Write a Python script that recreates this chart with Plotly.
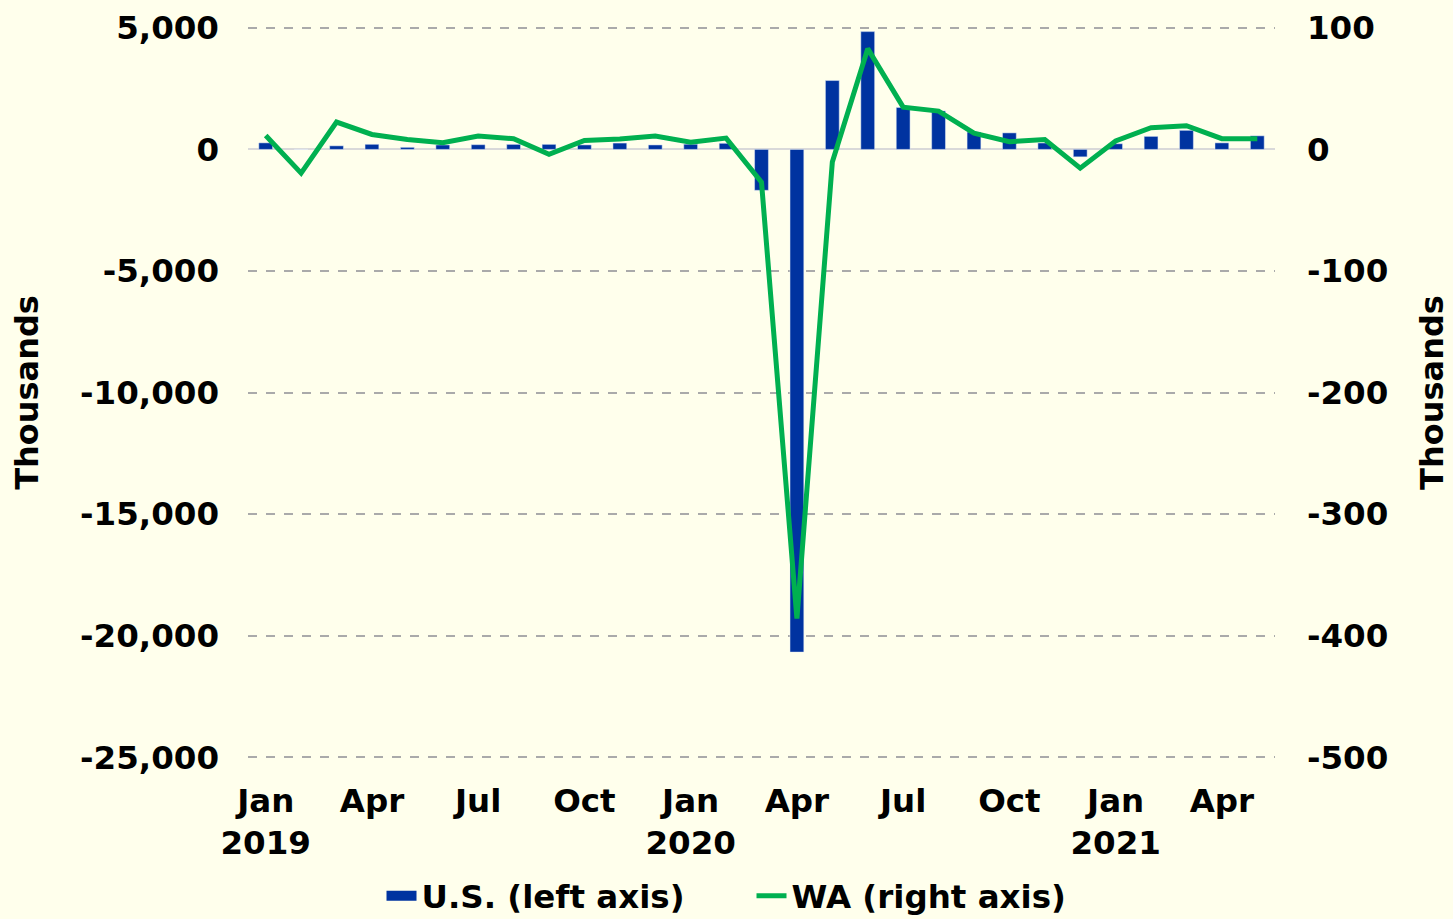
import plotly.graph_objects as go

months = ["Jan 2019","Feb 2019","Mar 2019","Apr 2019","May 2019","Jun 2019","Jul 2019","Aug 2019",
          "Sep 2019","Oct 2019","Nov 2019","Dec 2019","Jan 2020","Feb 2020","Mar 2020","Apr 2020",
          "May 2020","Jun 2020","Jul 2020","Aug 2020","Sep 2020","Oct 2020","Nov 2020","Dec 2020",
          "Jan 2021","Feb 2021","Mar 2021","Apr 2021","May 2021"]
us_values = [269, 1, 147, 210, 85, 182, 194, 207, 208, 185, 261, 184, 214, 251, -1683, -20679,
             2833, 4846, 1726, 1583, 716, 680, 264, -306, 233, 536, 785, 269, 559]
wa_values = [11.5, -19.5, 22.5, 12.3, 8.2, 5.5, 11.0, 8.8, -4.1, 7.4, 8.5, 11.0, 6.0, 9.3, -27.0,
             -386.0, -10.4, 82.9, 34.8, 31.5, 13.4, 6.3, 8.2, -15.4, 6.9, 17.8, 19.5, 8.8, 8.8]
tick_idx = [0, 3, 6, 9, 12, 15, 18, 21, 24, 27]
tick_text = ["Jan<br>2019", "Apr", "Jul", "Oct", "Jan<br>2020", "Apr", "Jul", "Oct", "Jan<br>2021", "Apr"]
left_ticks = [5000, 0, -5000, -10000, -15000, -20000, -25000]
left_text = ["5,000", "0", "-5,000", "-10,000", "-15,000", "-20,000", "-25,000"]
right_ticks = [100, 0, -100, -200, -300, -400, -500]
right_text = ["100", "0", "-100", "-200", "-300", "-400", "-500"]

BG = "#FFFFEC"
BLUE = "#0033A0"
GREEN = "#00B050"
FONT = dict(family="DejaVu Sans", size=32.5, color="black", weight="bold")
TITLE_FONT = dict(family="DejaVu Sans", size=32, color="black", weight="bold")

x = list(range(len(months)))

fig = go.Figure()
fig.add_trace(go.Bar(x=x, y=us_values, name="U.S. (left axis)", marker_color=BLUE,
                     width=0.39, yaxis="y", showlegend=False, legendgroup="us"))
# legend entry drawn as a wide rectangle
fig.add_trace(go.Scatter(x=[None], y=[None], name="U.S. (left axis)", mode="lines",
                         line=dict(color=BLUE, width=18), legendgroup="us", yaxis="y"))
fig.add_trace(go.Scatter(x=x, y=wa_values, name="WA (right axis)", mode="lines",
                         line=dict(color=GREEN, width=5), yaxis="y2"))

fig.update_layout(
    width=1453, height=919,
    paper_bgcolor=BG, plot_bgcolor=BG,
    margin=dict(l=248, r=178, t=23, b=157, autoexpand=False),
    font=FONT,
    showlegend=True,
    legend=dict(orientation="h", x=0.13, xanchor="left", y=0.025, yanchor="middle",
                yref="container", font=FONT, bgcolor="rgba(0,0,0,0)", traceorder="normal",
                entrywidth=325, entrywidthmode="pixels"),
    xaxis=dict(range=[-0.5, len(months) - 0.5], tickmode="array", tickvals=tick_idx,
               ticktext=tick_text, showgrid=False, zeroline=False, showline=False,
               ticks="", ticklabelstandoff=16, tickfont=FONT, automargin=False),
    yaxis=dict(range=[-25200, 5200], tickmode="array", tickvals=left_ticks,
               ticktext=left_text, showgrid=True, gridcolor="#AAAAAA", griddash="dash",
               gridwidth=2, zeroline=True, zerolinecolor="#D9D9D9", zerolinewidth=2,
               showline=False, ticks="", ticklabelstandoff=28, tickfont=FONT, automargin=False,
               title=dict(text="Thousands", font=TITLE_FONT, standoff=31)),
    yaxis2=dict(range=[-504, 104], overlaying="y", side="right", tickmode="array",
                tickvals=right_ticks, ticktext=right_text, showgrid=False, zeroline=False,
                showline=False, ticks="", ticklabelstandoff=31, tickfont=FONT, automargin=False,
                title=dict(text="Thousands", font=TITLE_FONT, standoff=33)),
)

fig.write_html("out.html", config={"displayModeBar": False},
               post_script="document.body.style.margin='0';document.body.style.background='%s';" % BG)
